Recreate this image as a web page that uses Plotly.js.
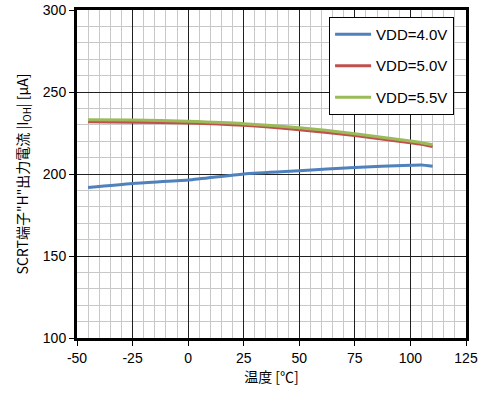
<!DOCTYPE html>
<html><head><meta charset="utf-8">
<script src="https://cdn.plot.ly/plotly-3.0.1.min.js"></script>
<style>body{margin:0;background:#fff}#c{width:484px;height:394px}</style>
</head><body><div id="c"></div>
<script>
const temps = [-45, -25, 0, 25, 50, 75, 100, 105, 110];
const vdd40 = [191.7, 194.2, 196.3, 200.0, 202.0, 204.0, 205.3, 205.5, 204.7];
const vdd50 = [231.9, 231.6, 231.1, 229.7, 227.0, 223.4, 219.1, 218.1, 216.7];
const vdd55 = [233.1, 233.0, 232.1, 230.7, 228.2, 224.6, 220.1, 219.1, 217.8];
const names = ['VDD=4.0V', 'VDD=5.0V', 'VDD=5.5V'];
const colors = ['#4F81BD', '#C0504D', '#9BBB59'];
const xTicks = [-50, -25, 0, 25, 50, 75, 100, 125];
const yTicks = [100, 150, 200, 250, 300];

const series = [vdd40, vdd50, vdd55];
const traces = series.map((ys, i) => ({
  x: temps, y: ys, type: 'scatter', mode: 'lines', name: names[i], legendgroup: 'g' + i,
  line: {color: colors[i], width: 3, shape: 'spline', smoothing: 0.6}
}));

const lat = 'Liberation Sans, Arial, sans-serif';
const cjk = 'Noto Sans CJK JP, Liberation Sans, sans-serif';
const layout = {
  width: 484, height: 394,
  margin: {l: 77, r: 18, t: 10, b: 56},
  paper_bgcolor: '#fff', plot_bgcolor: '#fff',
  font: {family: lat, size: 14, color: '#000'},
  showlegend: true,
  legend: {x: 0.648, y: 0.979, xanchor: 'left', yanchor: 'top', bordercolor: '#000', borderwidth: 1,
           bgcolor: '#fff', font: {family: lat, size: 15, color: '#000'},
           traceorder: 'grouped', tracegroupgap: 9, itemwidth: 36},
  xaxis: {
    range: [-50, 125], tickvals: xTicks, ticktext: xTicks.map(String),
    showgrid: true, gridcolor: '#202020', gridwidth: 1,
    minor: {dtick: 5, showgrid: true, gridcolor: '#c8c8c8', gridwidth: 1},
    showline: true, mirror: true, linecolor: '#000', linewidth: 3,
    ticks: 'outside', ticklen: 5, tickcolor: '#000', zeroline: false,
    tickfont: {family: lat, size: 14},
    title: {text: '温度 [℃]', font: {family: cjk, size: 14}, standoff: 6}
  },
  yaxis: {
    range: [100, 300], tickvals: yTicks, ticktext: yTicks.map(String),
    showgrid: true, gridcolor: '#202020', gridwidth: 1,
    minor: {dtick: 10, showgrid: true, gridcolor: '#c8c8c8', gridwidth: 1},
    showline: true, mirror: true, linecolor: '#000', linewidth: 3,
    ticks: 'outside', ticklen: 5, tickcolor: '#000', zeroline: false,
    tickfont: {family: lat, size: 14},
    title: {text: 'SCRT端子"H"出力電流 |I<sub>OH</sub>| [μA]', font: {family: cjk, size: 14}, standoff: 11}
  }
};
Plotly.newPlot('c', traces, layout, {staticPlot: true});
</script></body></html>
